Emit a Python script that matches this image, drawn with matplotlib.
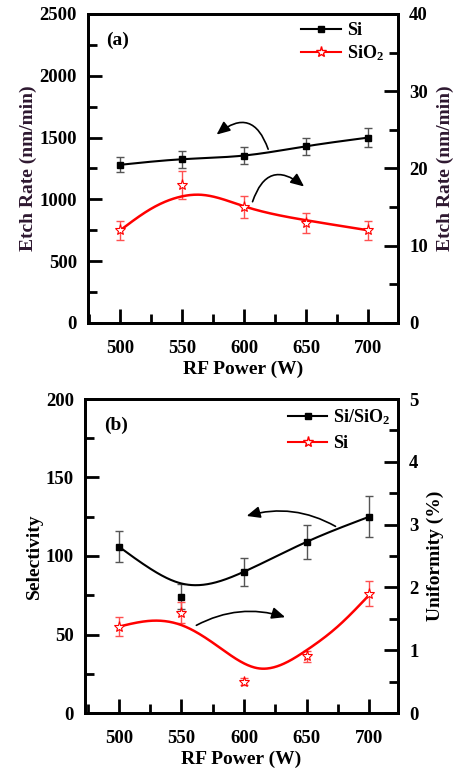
import matplotlib
matplotlib.use("Agg")
import matplotlib.pyplot as plt
import numpy as np
from matplotlib.patches import FancyArrowPatch
from matplotlib.ticker import MultipleLocator

plt.rcParams["font.family"] = ["Liberation Serif", "DejaVu Serif"]
plt.rcParams["font.weight"] = "bold"
plt.rcParams["axes.labelweight"] = "bold"
plt.rcParams["mathtext.fontset"] = "custom"
plt.rcParams["mathtext.rm"] = "Liberation Serif:bold"
plt.rcParams["mathtext.default"] = "rm"

power = [500, 550, 600, 650, 700]

# (a) etch rates
si_rate = [1280, 1325, 1355, 1430, 1500]
si_rate_err = [60, 70, 68, 68, 75]
sio2_rate = [12.0, 17.9, 15.0, 13.0, 12.0]
sio2_rate_err = [1.2, 1.8, 1.4, 1.3, 1.2]
# smooth fit through SiO2 data
sio2_fit_x = [500, 525, 550, 565, 600, 650, 700]
sio2_fit_y = [12.0, 14.8, 16.4, 16.6, 15.1, 13.3, 12.0]

# (b) selectivity and uniformity
selectivity = [106, 74, 90, 109, 125]
selectivity_err = [10, 8, 9, 11, 13]
sel_fit_x = [500, 525, 550, 565, 600, 650, 700]
sel_fit_y = [106, 92, 82.5, 81.5, 90, 109, 125]
uniformity = [1.375, 1.6, 0.5, 0.9, 1.9]
uniformity_err = [0.15, 0.16, 0.05, 0.08, 0.2]
uni_fit_x = [500, 527, 550, 580, 612, 650, 675, 700]
uni_fit_y = [1.375, 1.47, 1.4, 1.05, 0.71, 1.0, 1.38, 1.88]

RED = "#ff0000"
LABEL_DARK = "#2e1830"


def spline(xk, yk, n=300):
    """natural cubic spline through knots, numpy only"""
    xk = np.asarray(xk, float)
    yk = np.asarray(yk, float)
    m = len(xk)
    h = np.diff(xk)
    A = np.zeros((m, m))
    b = np.zeros(m)
    A[0, 0] = A[-1, -1] = 1
    for i in range(1, m - 1):
        A[i, i - 1] = h[i - 1]
        A[i, i] = 2 * (h[i - 1] + h[i])
        A[i, i + 1] = h[i]
        b[i] = 6 * ((yk[i + 1] - yk[i]) / h[i] - (yk[i] - yk[i - 1]) / h[i - 1])
    M = np.linalg.solve(A, b)
    xs = np.linspace(xk[0], xk[-1], n)
    ys = np.empty_like(xs)
    for j, x in enumerate(xs):
        i = min(np.searchsorted(xk, x) - 1, m - 2)
        i = max(i, 0)
        t1 = xk[i + 1] - x
        t0 = x - xk[i]
        ys[j] = (M[i] * t1 ** 3 + M[i + 1] * t0 ** 3) / (6 * h[i]) \
            + (yk[i] / h[i] - M[i] * h[i] / 6) * t1 \
            + (yk[i + 1] / h[i] - M[i + 1] * h[i] / 6) * t0
    return xs, ys


def style_axis(ax, right=False):
    for s in ax.spines.values():
        s.set_linewidth(2.0)
    ax.tick_params(which="both", direction="in", width=2.0, labelsize=13.5)
    ax.tick_params(which="major", length=10)
    ax.tick_params(which="minor", length=6.5)
    ax.tick_params(axis="x", which="major", pad=12)
    ax.tick_params(axis="y", which="major", pad=8)
    if right:
        ax.tick_params(axis="y", which="both", left=False, right=True)
    else:
        ax.tick_params(axis="y", which="both", right=False)
        ax.tick_params(axis="x", which="both", top=False)


def curved_arrow(ax, start, end, rad):
    ax.add_patch(FancyArrowPatch(start, end, connectionstyle=f"arc3,rad={rad}",
                                 arrowstyle="-|>,head_length=8,head_width=3.5",
                                 color="black", lw=1.2, zorder=5))


fig = plt.figure(figsize=(4.7, 7.74), dpi=100)

# ---------------- (a) ----------------
ax1 = fig.add_axes([88 / 470, 1 - 323 / 774, 310 / 470, 309 / 774])
ax1r = ax1.twinx()

fx, fy = spline(power, si_rate)
ax1.plot(fx, fy, color="black", lw=1.5, zorder=3)
ax1.errorbar(power, si_rate, yerr=si_rate_err, fmt="none", ecolor="#555555",
             elinewidth=1.0, capsize=3, capthick=1.0, zorder=2)
ax1.plot(power, si_rate, "s", color="black", ms=5, zorder=4)

fx, fy = spline(sio2_fit_x, sio2_fit_y)
ax1r.plot(fx, fy, color=RED, lw=1.8, zorder=3)
ax1r.errorbar(power, sio2_rate, yerr=sio2_rate_err, fmt="none", ecolor="#ff5050",
              elinewidth=1.0, capsize=3, capthick=1.0, zorder=2)
ax1r.plot(power, sio2_rate, "*", mfc="white", mec=RED, mew=0.8, ms=8, zorder=4)

ax1.set_xlim(474, 724)
ax1.set_ylim(0, 2500)
ax1r.set_ylim(0, 40)
ax1.xaxis.set_major_locator(MultipleLocator(50))
ax1.xaxis.set_minor_locator(MultipleLocator(25))
ax1.yaxis.set_major_locator(MultipleLocator(500))
ax1.yaxis.set_minor_locator(MultipleLocator(250))
ax1r.yaxis.set_major_locator(MultipleLocator(10))
ax1r.yaxis.set_minor_locator(MultipleLocator(5))
style_axis(ax1)
style_axis(ax1r, right=True)
ax1.set_xlabel("RF Power (W)", fontsize=14, labelpad=3)
ax1.set_ylabel("Etch Rate (nm/min)", fontsize=14, color=LABEL_DARK, labelpad=2)
ax1r.set_ylabel("Etch Rate (nm/min)", fontsize=14, color=LABEL_DARK, labelpad=6)
ax1.text(0.06, 0.915, "(a)", transform=ax1.transAxes, fontsize=14,
         fontweight="bold", ha="left", va="center")

h1, = ax1.plot([], [], "-s", color="black", lw=1.5, ms=5)
h2, = ax1.plot([], [], "-*", color=RED, mfc="white", mec=RED, lw=1.5, ms=8)
ax1.legend([h1, h2], ["Si", "SiO$_2$"], loc="upper right", frameon=False,
           fontsize=13, handlelength=2.2, handletextpad=0.3, labelspacing=0.2,
           bbox_to_anchor=(1.0, 1.02), borderaxespad=0.4)

curved_arrow(ax1, (620, 1385), (576, 1510), 0.75)
curved_arrow(ax1, (606, 960), (650, 1090), -0.75)

# ---------------- (b) ----------------
ax2 = fig.add_axes([85 / 470, 1 - 713 / 774, 313 / 470, 314 / 774])
ax2r = ax2.twinx()

fx, fy = spline(sel_fit_x, sel_fit_y)
ax2.plot(fx, fy, color="black", lw=1.5, zorder=3)
ax2.errorbar(power, selectivity, yerr=selectivity_err, fmt="none", ecolor="#555555",
             elinewidth=1.0, capsize=3, capthick=1.0, zorder=2)
ax2.plot(power, selectivity, "s", color="black", ms=5, zorder=4)

fx, fy = spline(uni_fit_x, uni_fit_y)
ax2r.plot(fx, fy, color=RED, lw=1.8, zorder=3)
ax2r.errorbar(power, uniformity, yerr=uniformity_err, fmt="none", ecolor="#ff5050",
              elinewidth=1.0, capsize=3, capthick=1.0, zorder=2)
ax2r.plot(power, uniformity, "*", mfc="white", mec=RED, mew=0.8, ms=8, zorder=4)

ax2.set_xlim(473, 723)
ax2.set_ylim(0, 200)
ax2r.set_ylim(0, 5)
ax2.xaxis.set_major_locator(MultipleLocator(50))
ax2.xaxis.set_minor_locator(MultipleLocator(25))
ax2.yaxis.set_major_locator(MultipleLocator(50))
ax2.yaxis.set_minor_locator(MultipleLocator(25))
ax2r.yaxis.set_major_locator(MultipleLocator(1))
ax2r.yaxis.set_minor_locator(MultipleLocator(0.5))
style_axis(ax2)
style_axis(ax2r, right=True)
ax2.set_xlabel("RF Power (W)", fontsize=14, labelpad=3)
ax2.set_ylabel("Selectivity", fontsize=14, labelpad=2)
ax2r.set_ylabel("Uniformity (%)", fontsize=14, labelpad=6)
ax2.text(0.06, 0.915, "(b)", transform=ax2.transAxes, fontsize=14,
         fontweight="bold", ha="left", va="center")

h3, = ax2.plot([], [], "-s", color="black", lw=1.5, ms=5)
h4, = ax2.plot([], [], "-*", color=RED, mfc="white", mec=RED, lw=1.5, ms=8)
ax2.legend([h3, h4], ["Si/SiO$_2$", "Si"], loc="upper right", frameon=False,
           fontsize=13, handlelength=2.2, handletextpad=0.3, labelspacing=0.45,
           bbox_to_anchor=(1.02, 1.02), borderaxespad=0.4)

curved_arrow(ax2, (675, 118), (600, 125), 0.22)
curved_arrow(ax2, (560, 55), (635, 60.5), -0.22)

fig.savefig("out.png", dpi=100)
